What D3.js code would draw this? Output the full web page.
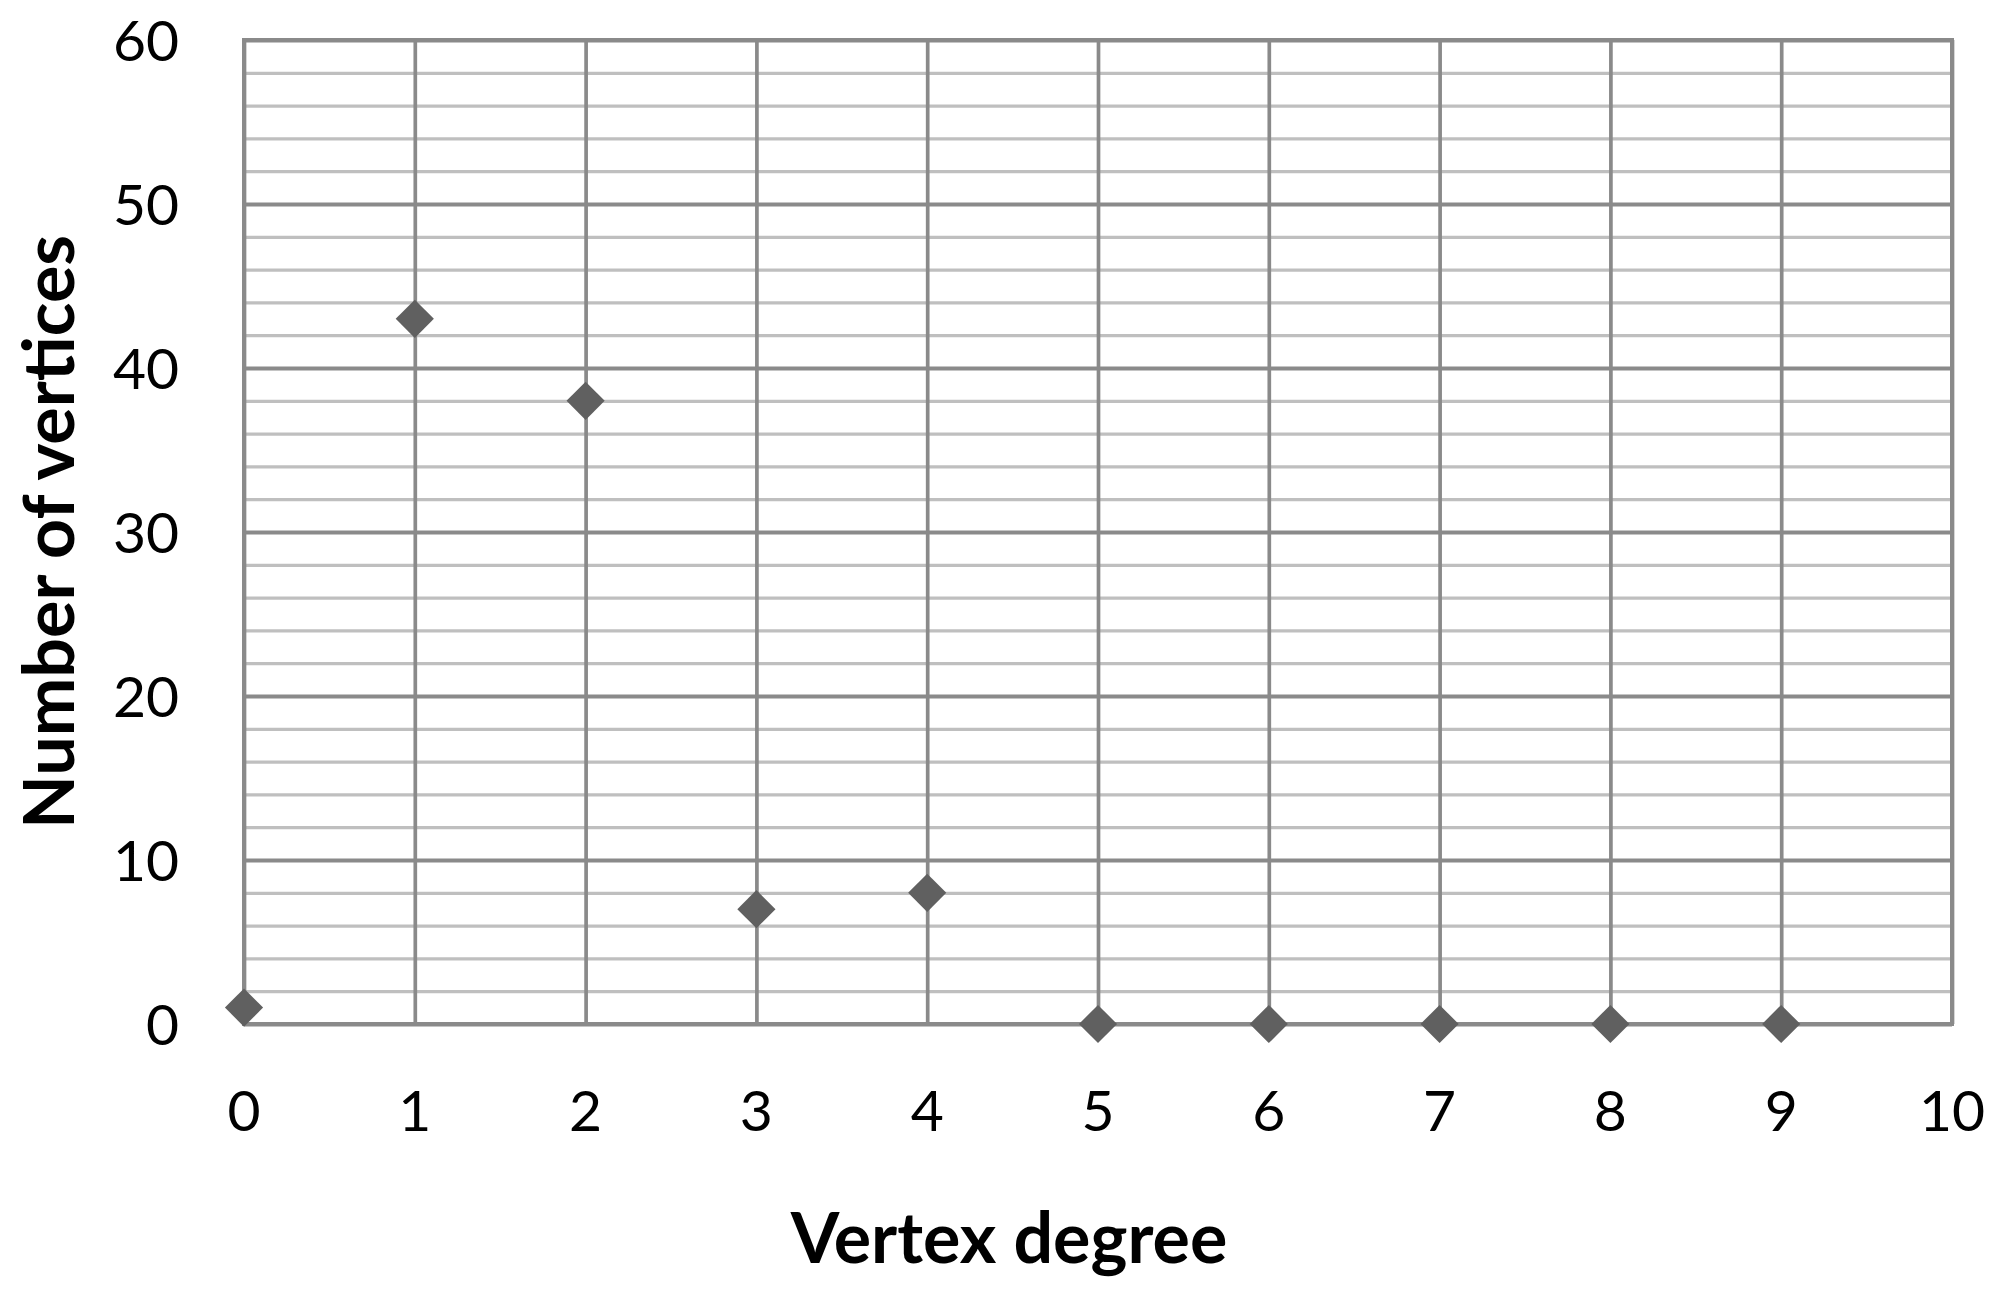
<!DOCTYPE html>
<html>
<head>
<meta charset="utf-8">
<script src="https://cdn.jsdelivr.net/npm/d3@7"></script>
<style>
  html, body { margin: 0; padding: 0; background: #fff; }
  svg { display: block; }
</style>
</head>
<body>
<svg id="chart" width="2006" height="1292"></svg>
<script>
const degrees = [0, 1, 2, 3, 4, 5, 6, 7, 8, 9];
const vertexCounts = [1, 43, 38, 7, 8, 0, 0, 0, 0, 0];
const xTicks = [0, 1, 2, 3, 4, 5, 6, 7, 8, 9, 10];
const yTicks = [0, 10, 20, 30, 40, 50, 60];
const yMinorTicks = d3.range(0, 61, 2);
const xTitle = "Vertex degree";
const yTitle = "Number of vertices";

(function () {
const svg = d3.select("#chart");
const pL = 244, pR = 1952, pT = 40, pB = 1024;
const x = d3.scaleLinear().domain([0, 10]).range([pL, pR]);
const y = d3.scaleLinear().domain([0, 60]).range([pB, pT]);

const majorColor = "#8a8a8a", minorColor = "#bfbfbf";
const font = "Lato, 'Open Sans', sans-serif";

// minor horizontal gridlines
svg.append("g").attr("transform", `translate(${pL},0)`).call(
  d3.axisLeft(y).tickValues(yMinorTicks.filter(v => v % 10 !== 0)).tickSize(-(pR - pL)).tickFormat("")
)
 .call(g => g.select(".domain").remove())
 .call(g => g.selectAll("line").attr("stroke", minorColor).attr("stroke-width", 3.3));

// vertical gridlines
svg.append("g").attr("transform", `translate(0,${pB})`).call(
  d3.axisBottom(x).tickValues(xTicks).tickSize(-(pB - pT)).tickFormat("")
)
 .call(g => g.select(".domain").remove())
 .call(g => g.selectAll("line").attr("stroke", majorColor).attr("stroke-width", 3.7));

// major horizontal gridlines
svg.append("g").attr("transform", `translate(${pL},0)`).call(
  d3.axisLeft(y).tickValues(yTicks).tickSize(-(pR - pL)).tickFormat("")
)
 .call(g => g.select(".domain").remove())
 .call(g => g.selectAll("line").attr("stroke", majorColor).attr("stroke-width", 4));

// border
svg.append("rect")
  .attr("x", pL).attr("y", pT)
  .attr("width", pR - pL).attr("height", pB - pT)
  .attr("fill", "none").attr("stroke", majorColor).attr("stroke-width", 4);

// y tick labels
svg.append("g").selectAll("text").data(yTicks).join("text")
  .attr("x", 179).attr("y", d => y(d))
  .attr("dy", "0.36em")
  .attr("text-anchor", "end")
  .attr("font-family", font).attr("font-size", 57).attr("fill", "#000")
  .text(d => d);

// x tick labels
svg.append("g").selectAll("text").data(xTicks).join("text")
  .attr("x", d => x(d)).attr("y", 1131)
  .attr("text-anchor", "middle")
  .attr("font-family", font).attr("font-size", 57).attr("fill", "#000")
  .text(d => d);

// points (diamonds)
const sym = d3.symbol().type(d3.symbolSquare).size(27 * 27);
svg.append("g").selectAll("path").data(degrees).join("path")
  .attr("d", sym)
  .attr("transform", (d, i) => `translate(${x(d)},${y(vertexCounts[i])}) rotate(45)`)
  .attr("fill", "#606060");

// axis titles
svg.append("text")
  .attr("x", 1009).attr("y", 1263)
  .attr("text-anchor", "middle")
  .attr("font-family", font).attr("font-weight", "bold").attr("font-size", 70)
  .text(xTitle);

svg.append("text")
  .attr("transform", "translate(74,532) rotate(-90)")
  .attr("text-anchor", "middle")
  .attr("font-family", font).attr("font-weight", "bold").attr("font-size", 70)
  .text(yTitle);
})();
</script>
</body>
</html>
